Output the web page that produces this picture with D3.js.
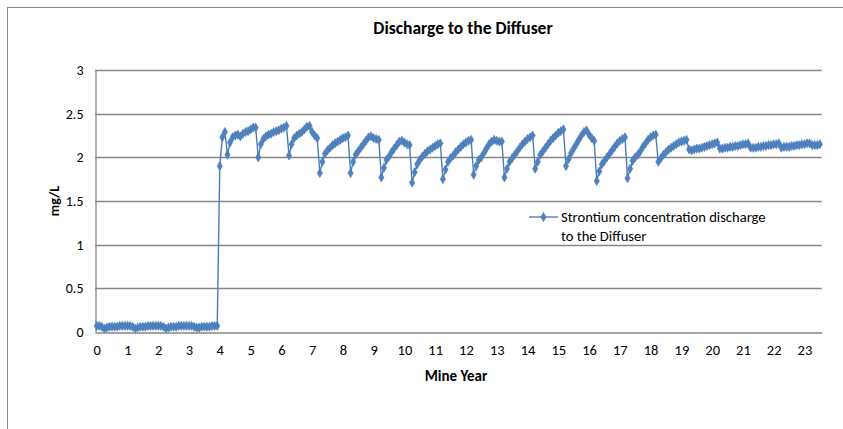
<!DOCTYPE html>
<html>
<head>
<meta charset="utf-8">
<script src="https://cdn.jsdelivr.net/npm/d3@7"></script>
<style>
  html, body { margin: 0; padding: 0; background: #ffffff; }
  svg { display: block; }
  text { font-family: Carlito, Calibri, "Liberation Sans", Arial, sans-serif; fill: #000; }
</style>
</head>
<body>
<svg id="chart" width="843" height="429"></svg>
<script>
// ---- data (monthly values, mg/L) ----
const chartTitle = "Discharge to the Diffuser";
const xAxisTitle = "Mine Year";
const yAxisTitle = "mg/L";
const seriesName = ["Strontium concentration discharge", "to the Diffuser"];
const startYear = 0;
const monthsPerYear = 12;

// years 0 - 3 (pre-discharge baseline)
const baseline = [
  0.07,0.07,0.06,0.04,0.05,0.06,0.06,0.06,0.06,0.07,0.07,0.07,
  0.07,0.07,0.06,0.04,0.05,0.06,0.06,0.06,0.07,0.07,0.07,0.07,
  0.07,0.07,0.06,0.04,0.05,0.06,0.06,0.06,0.07,0.07,0.07,0.07,
  0.07,0.07,0.06,0.05,0.05,0.06,0.06,0.06,0.06,0.07,0.07,0.07
];
// year 4 to 5.25
const startup = [1.90,2.23,2.29,2.03,2.17,2.23,2.25,2.26,2.24,2.27,2.29,2.30,2.32,2.34,2.34];
// annual cycles beginning at year x.25
const cycles = [
  [2.00,2.15,2.21,2.24,2.26,2.27,2.29,2.30,2.31,2.33,2.34,2.36], // 5.25
  [2.02,2.15,2.22,2.25,2.27,2.29,2.32,2.35,2.36,2.29,2.25,2.22], // 6.25
  [1.82,1.95,2.04,2.08,2.11,2.14,2.16,2.18,2.20,2.22,2.23,2.25], // 7.25
  [1.82,1.95,2.03,2.07,2.11,2.15,2.19,2.23,2.24,2.22,2.21,2.20], // 8.25
  [1.77,1.88,1.97,2.01,2.06,2.10,2.14,2.18,2.19,2.17,2.15,2.14], // 9.25
  [1.71,1.83,1.92,1.97,2.01,2.04,2.07,2.09,2.11,2.13,2.15,2.16], // 10.25
  [1.75,1.86,1.95,1.99,2.02,2.06,2.09,2.12,2.15,2.17,2.19,2.20], // 11.25
  [1.80,1.90,1.97,2.00,2.05,2.10,2.15,2.18,2.20,2.19,2.18,2.18], // 12.25
  [1.77,1.87,1.95,1.99,2.03,2.07,2.11,2.15,2.18,2.21,2.23,2.25], // 13.25
  [1.87,1.95,2.03,2.07,2.11,2.15,2.19,2.22,2.25,2.28,2.30,2.32], // 14.25
  [1.90,1.98,2.05,2.10,2.15,2.20,2.25,2.29,2.31,2.26,2.22,2.19], // 15.25
  [1.73,1.84,1.92,1.96,2.00,2.04,2.08,2.12,2.16,2.19,2.21,2.23], // 16.25
  [1.76,1.87,1.96,2.00,2.03,2.07,2.12,2.16,2.20,2.23,2.25,2.26], // 17.25
  [1.95,1.99,2.03,2.06,2.09,2.11,2.13,2.15,2.17,2.18,2.19,2.20], // 18.25
  [2.09,2.08,2.09,2.10,2.10,2.11,2.12,2.13,2.14,2.15,2.16,2.17], // 19.25
  [2.10,2.10,2.11,2.11,2.12,2.12,2.13,2.13,2.14,2.15,2.15,2.16], // 20.25
  [2.11,2.11,2.11,2.12,2.12,2.13,2.13,2.14,2.14,2.15,2.15,2.16], // 21.25
  [2.11,2.12,2.12,2.12,2.13,2.13,2.14,2.14,2.15,2.15,2.16,2.16]  // 22.25
];
const tail = [2.14,2.14,2.14,2.15]; // 23.25 - 23.5

const xTicks = d3.range(0, 24);          // 0 .. 23
const yTicks = [0, 0.5, 1, 1.5, 2, 2.5, 3];

// ---- build series ----
const values = [].concat(baseline, startup, ...cycles, tail);
const data = values.map((v, i) => ({ x: startYear + i / monthsPerYear, y: v }));

// ---- layout ----
const svg = d3.select("#chart");
const W = 843, H = 429;
const plot = { left: 95, right: 821.7, top: 70, bottom: 332 };
const axisColor = "#868686";
const lineColor = "#4A7EBB";
const markColor = "#4F81BD";

// outer chart border (only left and top edges fall inside the picture)
svg.append("rect")
  .attr("x", 7.5).attr("y", 7.5)
  .attr("width", W).attr("height", H)
  .attr("fill", "none").attr("stroke", axisColor).attr("stroke-width", 1);

const x = d3.scaleLinear().domain([-0.055, 23.56]).range([plot.left, plot.right]);
const y = d3.scaleLinear().domain([0, 3]).range([plot.bottom, plot.top]);

// gridlines
svg.append("g")
  .selectAll("line")
  .data(yTicks.filter(d => d > 0))
  .join("line")
  .attr("x1", plot.left).attr("x2", plot.right)
  .attr("y1", d => Math.round(y(d)) + 0.5).attr("y2", d => Math.round(y(d)) + 0.5)
  .attr("stroke", axisColor).attr("stroke-width", 1.3);

// y axis
const yAxis = d3.axisLeft(y).tickValues(yTicks).tickSize(0).tickPadding(12)
  .tickFormat(d3.format("~g"));
const gy = svg.append("g").attr("transform", `translate(${plot.left + 0.5},0)`).call(yAxis);
gy.select(".domain").attr("stroke", axisColor).attr("stroke-width", 1.3);
gy.selectAll("text").style("font-size", "14px").attr("fill", "#000");

// x axis
const xAxis = d3.axisBottom(x).tickValues(xTicks).tickSize(0).tickPadding(12)
  .tickFormat(d3.format("d"));
const gx = svg.append("g").attr("transform", `translate(0,${Math.round(plot.bottom) + 0.5})`).call(xAxis);
gx.select(".domain").attr("stroke", axisColor).attr("stroke-width", 1.3);
gx.selectAll("text").style("font-size", "14.5px").attr("fill", "#000");

// line
const line = d3.line().x(d => x(d.x)).y(d => y(d.y));
svg.append("path")
  .datum(data)
  .attr("d", line)
  .attr("fill", "none")
  .attr("stroke", lineColor)
  .attr("stroke-width", 1.4);

// markers
const diamond = d3.symbol().type(d3.symbolDiamond).size(24);
svg.append("g")
  .selectAll("path")
  .data(data)
  .join("path")
  .attr("transform", d => `translate(${x(d.x)},${y(d.y)})`)
  .attr("d", diamond)
  .attr("fill", markColor)
  .attr("stroke", lineColor)
  .attr("stroke-width", 0.6);

// titles
svg.append("text")
  .attr("x", 463).attr("y", 34)
  .attr("text-anchor", "middle")
  .style("font-size", "17.5px").style("font-weight", "bold")
  .text(chartTitle);

svg.append("text")
  .attr("x", 456).attr("y", 381)
  .attr("text-anchor", "middle")
  .style("font-size", "15px").style("font-weight", "bold")
  .text(xAxisTitle);

svg.append("text")
  .attr("transform", "translate(59,201) rotate(-90)")
  .attr("text-anchor", "middle")
  .style("font-size", "14px").style("font-weight", "bold")
  .text(yAxisTitle);

// legend
const lg = svg.append("g").attr("transform", "translate(529,217)");
lg.append("line").attr("x1", 0).attr("x2", 29).attr("y1", 0).attr("y2", 0)
  .attr("stroke", lineColor).attr("stroke-width", 1.4);
lg.append("path").attr("transform", "translate(14.5,0)").attr("d", diamond)
  .attr("fill", markColor).attr("stroke", lineColor).attr("stroke-width", 0.6);
lg.selectAll("text.leg")
  .data(seriesName)
  .join("text")
  .attr("class", "leg")
  .attr("x", 32).attr("y", (d, i) => 5 + i * 19)
  .style("font-size", "14.6px")
  .text(d => d);
</script>
</body>
</html>
